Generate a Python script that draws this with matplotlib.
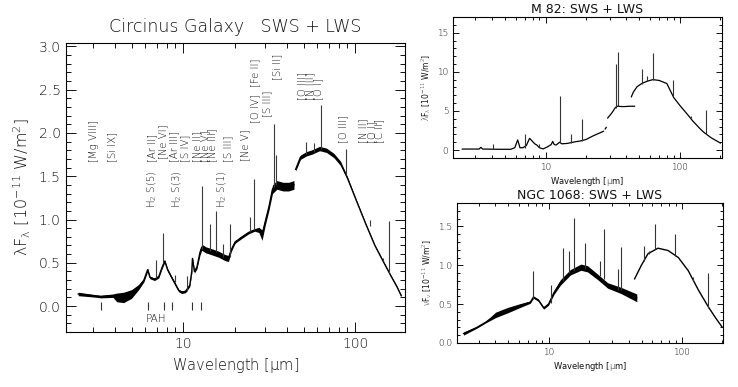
import numpy as np
import matplotlib
matplotlib.use('Agg')
import matplotlib.pyplot as plt
from matplotlib.ticker import MultipleLocator, LogLocator, NullFormatter

# ---- Circinus: SWS continuum (wavelength, flux, noise half-width) ----
circ_sws_lam = [2.45, 3.0, 3.3, 3.9, 4.1, 4.5, 5.0, 5.5, 5.9, 6.2, 6.4, 6.8, 7.2, 7.5, 7.8,
                8.1, 8.5, 9.0, 9.4, 9.8, 10.3, 10.9, 11.2, 11.3, 11.6, 12.0, 12.5, 12.8,
                13.5, 14.5, 16.0, 17.5, 18.3, 19.0, 20.0, 22.0, 24.0, 26.0, 27.5, 28.7,
                30.0, 31.5, 33.0, 35.0, 38.0, 41.0, 44.0]
circ_sws_flux = [0.14, 0.12, 0.11, 0.12, 0.10, 0.10, 0.14, 0.22, 0.30, 0.42, 0.33, 0.31, 0.34,
                 0.44, 0.52, 0.42, 0.34, 0.25, 0.18, 0.16, 0.17, 0.24, 0.40, 0.55, 0.40, 0.45,
                 0.62, 0.68, 0.65, 0.63, 0.60, 0.56, 0.55, 0.65, 0.74, 0.80, 0.85, 0.88, 0.88,
                 0.82, 0.98, 1.15, 1.35, 1.40, 1.38, 1.38, 1.40]
circ_sws_err = [0.02, 0.015, 0.015, 0.02, 0.05, 0.06, 0.05, 0.03, 0.02, 0.02, 0.015, 0.015, 0.015,
                0.015, 0.015, 0.015, 0.015, 0.015, 0.015, 0.015, 0.015, 0.015, 0.02, 0.02, 0.02, 0.02,
                0.03, 0.035, 0.035, 0.035, 0.035, 0.035, 0.035, 0.02, 0.015, 0.015, 0.015, 0.015, 0.03,
                0.06, 0.04, 0.04, 0.05, 0.05, 0.05, 0.05, 0.05]
# ---- Circinus: LWS ----
circ_lws_lam = [45.0, 48.0, 52.0, 56.0, 62.0, 68.0, 75.0, 82.0, 90.0, 100.0, 115.0, 130.0,
                145.0, 160.0, 175.0, 185.0]
circ_lws_flux = [1.58, 1.72, 1.76, 1.78, 1.82, 1.80, 1.74, 1.65, 1.48, 1.25, 0.95, 0.70,
                 0.52, 0.36, 0.22, 0.12]
circ_lws_err = [0.02, 0.025, 0.025, 0.025, 0.025, 0.025, 0.025, 0.025, 0.015, 0.008, 0.008, 0.008,
                0.008, 0.008, 0.008, 0.008]
# emission lines: wavelength, base, peak
circ_line_lam = [6.98, 7.65, 8.99, 10.51, 12.81, 14.32, 15.55, 17.03, 18.71, 24.3, 25.9,
                 33.48, 34.8, 51.8, 57.3, 63.2, 88.4, 121.9, 145.5, 157.7]
circ_line_base = [0.33, 0.50, 0.28, 0.18, 0.66, 0.64, 0.62, 0.57, 0.57, 0.86, 0.88,
                  1.38, 1.40, 1.76, 1.78, 1.82, 1.52, 0.92, 0.52, 0.38]
circ_line_peak = [0.53, 0.85, 0.36, 0.35, 1.39, 0.95, 1.10, 0.72, 0.95, 1.03, 1.47,
                  2.10, 1.75, 1.90, 1.88, 2.32, 1.81, 1.00, 0.56, 0.98]
pah_lam = [3.3, 6.2, 7.7, 8.6, 11.3, 12.7]

# line identifications: x, bottom of text, label
id_lam = [3.02, 3.88, 6.58, 6.58, 7.62, 9.2, 8.9, 10.3, 12.1, 13.4, 14.7, 16.8, 18.3,
          22.9, 26.2, 26.2, 30.6, 35.1, 48.9, 54.8, 61.2, 85.6, 111.5, 125.0, 137.0]
id_y = [1.665, 1.665, 1.13, 1.665, 1.70, 1.13, 1.665, 1.665, 1.665, 1.665, 1.665, 1.13, 1.665,
        1.68, 2.11, 2.53, 2.18, 2.61, 2.385, 2.385, 2.385, 1.88, 1.88, 1.88, 1.88]
id_text = ['[Mg VIII]', '[Si IX]', 'H$_2$ S(5)', '[Ar II]', '[Ne VI]', 'H$_2$ S(3)', '[Ar III]',
           '[S IV]', '[Ne II]', '[Ne V]', '[Ne III]', 'H$_2$ S(1)', '[S III]', '[Ne V]',
           '[O IV]', '[Fe II]', '[S III]', '[Si II]', '[O III]', '[N III]', '[O I]',
           '[O III]', '[N II]', '[O I]', '[C II]']

# ---- M 82 ----
m82_sws1_lam = [2.4, 3.2, 3.3, 3.4, 4.5, 5.5, 5.9, 6.2, 6.45, 6.8, 7.2, 7.6, 7.9, 8.3, 8.6,
                9.0, 9.6, 10.3, 11.0, 11.3, 11.6, 12.0, 12.7, 13.2, 14.5, 16.5, 18.0, 20.0,
                22.5, 25.0, 27.0]
m82_sws1_flux = [0.13, 0.13, 0.35, 0.13, 0.10, 0.10, 0.30, 1.30, 0.30, 0.30, 0.60, 1.50, 1.20,
                 0.80, 0.65, 0.30, 0.15, 0.40, 0.70, 1.10, 0.70, 0.65, 1.00, 0.80, 0.85, 1.05,
                 1.15, 1.35, 1.80, 2.15, 2.40]
m82_sws2_lam = [27.8, 28.3]
m82_sws2_flux = [2.7, 2.9]
m82_sws3_lam = [29.0, 31.0, 33.0, 34.0, 38.0, 42.0, 46.0]
m82_sws3_flux = [4.1, 4.7, 5.4, 5.6, 5.55, 5.6, 5.6]
m82_lws_lam = [43.5, 45.0, 48.0, 52.0, 57.0, 63.0, 70.0, 80.0, 90.0, 100.0, 112.0, 125.0,
               140.0, 150.0, 170.0, 200.0]
m82_lws_flux = [6.8, 7.4, 8.1, 8.5, 8.8, 9.0, 8.9, 8.5, 6.7, 5.7, 4.7, 3.7, 2.8, 2.3, 1.6, 0.9]
m82_line_lam = [4.05, 6.98, 8.99, 12.81, 15.55, 18.71, 33.48, 34.8, 51.8, 57.3, 63.2, 88.4,
                121.9, 145.5, 157.7]
m82_line_base = [0.1, 0.3, 0.35, 1.0, 0.95, 1.2, 5.4, 5.6, 8.5, 8.8, 9.0, 6.9, 4.1, 2.5, 2.0]
m82_line_peak = [0.73, 2.0, 0.8, 6.85, 2.06, 4.0, 11.0, 12.56, 10.3, 9.5, 12.4, 9.0, 4.3, 2.6, 5.14]

# ---- NGC 1068 ----
ngc_sws_lam = [2.3, 2.9, 3.4, 4.0, 4.9, 6.1, 7.3, 7.7, 8.4, 9.2, 10.0, 11.0, 12.3, 14.6, 17.5,
               19.6, 23.4, 27.8, 35.1, 46.0]
ngc_sws_flux = [0.12, 0.20, 0.27, 0.36, 0.42, 0.48, 0.525, 0.59, 0.55, 0.45, 0.50, 0.65, 0.78,
                0.91, 0.975, 0.955, 0.85, 0.74, 0.675, 0.58]
ngc_sws_err = [0.02, 0.01, 0.01, 0.035, 0.035, 0.025, 0.015, 0.015, 0.015, 0.015, 0.015, 0.025, 0.035,
               0.035, 0.04, 0.04, 0.035, 0.035, 0.04, 0.05]
ngc_lws_lam = [44.3, 49.8, 55.9, 66.4, 79.0, 94.3, 112.0, 134.0, 159.0, 180.0, 200.0]
ngc_lws_flux = [0.825, 1.0, 1.15, 1.22, 1.19, 1.10, 0.93, 0.675, 0.46, 0.32, 0.21]
ngc_line_lam = [7.65, 10.51, 12.81, 14.32, 15.55, 18.71, 24.3, 25.9, 33.48, 34.8, 51.8, 57.3,
                63.2, 88.4, 121.9, 157.7]
ngc_line_base = [0.56, 0.52, 0.80, 0.90, 0.93, 0.95, 0.86, 0.82, 0.68, 0.68, 1.05, 1.15,
                 1.21, 1.12, 0.80, 0.45]
ngc_line_peak = [0.93, 0.75, 1.22, 1.18, 1.61, 1.29, 1.05, 1.47, 0.95, 1.23, 1.25, 1.19,
                 1.53, 1.40, 0.85, 0.90]

txt = '#111111'
plt.rcParams['font.family'] = ['DejaVu Sans']
plt.rcParams['font.weight'] = 'light'
plt.rcParams['mathtext.fontset'] = 'custom'
plt.rcParams['mathtext.rm'] = 'DejaVu Sans:light'
plt.rcParams['mathtext.it'] = 'DejaVu Sans:light'
plt.rcParams['mathtext.sf'] = 'DejaVu Sans:light'
plt.rcParams['text.color'] = txt
plt.rcParams['axes.labelcolor'] = txt
plt.rcParams['axes.titleweight'] = 'light'
plt.rcParams['axes.labelweight'] = 'light'
plt.rcParams['xtick.color'] = txt
plt.rcParams['ytick.color'] = txt


def style_axes(ax, major, minor, size, ticklen):
    ax.set_xscale('log')
    ax.set_xticks([10, 100])
    ax.set_xticklabels(['10', '100'])
    ax.xaxis.set_minor_locator(LogLocator(base=10, subs=np.arange(2, 10)))
    ax.xaxis.set_minor_formatter(NullFormatter())
    ax.yaxis.set_major_locator(MultipleLocator(major))
    ax.yaxis.set_minor_locator(MultipleLocator(minor))
    ax.tick_params(which='both', direction='in', top=True, right=True, labelsize=size,
                   width=0.7)
    ax.tick_params(which='major', length=ticklen)
    ax.tick_params(which='minor', length=ticklen / 2)
    for s in ax.spines.values():
        s.set_linewidth(0.8)


fig = plt.figure(figsize=(7.38, 3.87), dpi=100)

###--------------------###
### CIRCINUS (main)    ###
###--------------------###
ax = fig.add_axes([0.089, 0.142, 0.460, 0.747])
lam = np.array(circ_sws_lam)
fl = np.array(circ_sws_flux)
er = np.array(circ_sws_err)
ax.fill_between(lam, fl - er, fl + er, color='k', lw=0)
ax.plot(lam, fl, color='k', lw=1.0)
lam = np.array(circ_lws_lam)
fl = np.array(circ_lws_flux)
er = np.array(circ_lws_err)
ax.fill_between(lam, fl - er, fl + er, color='k', lw=0)
ax.plot(lam, fl, color='k', lw=1.0)
ax.vlines(circ_line_lam, circ_line_base, circ_line_peak, color='#3a3a3a', lw=0.8)
ax.vlines(pah_lam, -0.05, 0.05, color='#333333', lw=0.8)
ax.text(6.95, -0.15, 'PAH', fontsize=7.5, ha='center', va='center')
for x, y, t in zip(id_lam, id_y, id_text):
    ax.text(x, y, t, rotation=90, ha='center', va='bottom', fontsize=7.3)
ax.set_xlim(2.07, 195)
ax.set_ylim(-0.3, 3.04)
style_axes(ax, 0.5, 0.1, 10, 7)
ax.yaxis.set_major_formatter(plt.FormatStrFormatter('%.1f'))
ax.set_title('Circinus Galaxy   SWS + LWS', fontsize=12.5, pad=8)
ax.set_xlabel(r'Wavelength [$\mu$m]', fontsize=10.5)
ax.set_ylabel(r'$\lambda$F$_\lambda$ [10$^{-11}$ W/m$^2$]', fontsize=11.5, labelpad=4)

###--------------------###
### M 82               ###
###--------------------###
ax2 = fig.add_axes([0.614, 0.592, 0.364, 0.364])
ax2.plot(m82_sws1_lam, m82_sws1_flux, color='k', lw=0.9)
ax2.plot(m82_sws2_lam, m82_sws2_flux, color='k', lw=0.9)
ax2.plot(m82_sws3_lam, m82_sws3_flux, color='k', lw=0.9)
ax2.plot(m82_lws_lam, m82_lws_flux, color='k', lw=0.9)
ax2.vlines(m82_line_lam, m82_line_base, m82_line_peak, color='#333333', lw=0.8)
ax2.set_xlim(2.05, 205)
ax2.set_ylim(-1, 17)
style_axes(ax2, 5, 1, 6.5, 4)
ax2.set_title('M 82: SWS + LWS', fontsize=9, pad=3, fontweight='normal')
ax2.set_xlabel(r'Wavelength [$\mu$m]', fontsize=6, labelpad=2, fontweight='normal')
ax2.set_ylabel(r'$\lambda$F$_\lambda$ [10$^{-11}$ W/m$^2$]', fontsize=5.5, labelpad=3,
               fontweight='normal')

###--------------------###
### NGC 1068           ###
###--------------------###
ax3 = fig.add_axes([0.619, 0.114, 0.361, 0.361])
lam = np.array(ngc_sws_lam)
fl = np.array(ngc_sws_flux)
er = np.array(ngc_sws_err)
ax3.fill_between(lam, fl - er, fl + er, color='k', lw=0)
ax3.plot(lam, fl, color='k', lw=0.9)
ax3.plot(ngc_lws_lam, ngc_lws_flux, color='k', lw=1.0)
ax3.vlines(ngc_line_lam, ngc_line_base, ngc_line_peak, color='#333333', lw=0.8)
ax3.set_xlim(2.05, 205)
ax3.set_ylim(0, 1.8)
style_axes(ax3, 0.5, 0.1, 6.5, 4)
ax3.yaxis.set_major_formatter(plt.FormatStrFormatter('%.1f'))
ax3.set_title('NGC 1068: SWS + LWS', fontsize=9, pad=3, fontweight='normal')
ax3.set_xlabel(r'Wavelength [$\mu$m]', fontsize=6, labelpad=2, fontweight='normal')
ax3.set_ylabel(r'$\nu$F$_\nu$ [10$^{-11}$ W/m$^2$]', fontsize=5.5, labelpad=3,
               fontweight='normal')

fig.savefig('out.png', dpi=100)
